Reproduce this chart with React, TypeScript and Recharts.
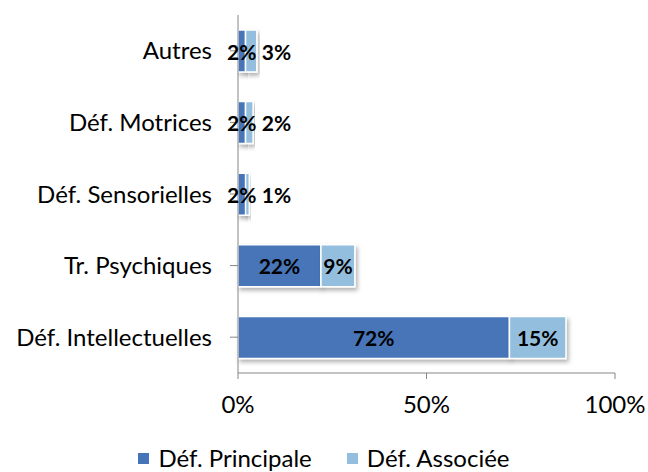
import { BarChart, Bar, XAxis, YAxis, Legend, LabelList } from 'recharts'

const categories = ['Autres', 'Déf. Motrices', 'Déf. Sensorielles', 'Tr. Psychiques', 'Déf. Intellectuelles']
const principale = [2, 2, 2, 22, 72]
const associee = [3, 2, 1, 9, 15]
const xTicks = [0, 50, 100]

const data = categories.map((name, i) => ({
  name,
  principale: principale[i],
  associee: associee[i],
}))

const FONT = 'Lato, "Open Sans", sans-serif'
const DARK = '#4674b8'
const LIGHT = '#94bedd'
const PLOT_LEFT = 238

function InsideLabel(props: any) {
  const { x, y, width, height, value } = props
  return (
    <text
      x={x + width / 2}
      y={y + height / 2}
      textAnchor="middle"
      dominantBaseline="central"
      fontFamily={FONT}
      fontWeight={700}
      fontSize={21}
      fill="#000"
    >
      {value}%
    </text>
  )
}

// small segments: push the label right, clear of the first segment's label
function OuterLabel(props: any) {
  const { x, y, width, height, value } = props
  const small = width < 20
  const prevEnd = (PLOT_LEFT + x) / 2 + 15
  return (
    <text
      x={small ? Math.max(x + width + 3, prevEnd + 5) : x + width / 2}
      y={y + height / 2}
      textAnchor={small ? 'start' : 'middle'}
      dominantBaseline="central"
      fontFamily={FONT}
      fontWeight={700}
      fontSize={21}
      fill="#000"
    >
      {value}%
    </text>
  )
}

const legendItems = [
  { label: 'Déf. Principale', color: DARK },
  { label: 'Déf. Associée', color: LIGHT },
]

function LegendContent() {
  return (
    <div style={{ display: 'flex', justifyContent: 'center', alignItems: 'center', gap: 35, fontFamily: FONT, fontSize: 24, color: '#000', lineHeight: '28px' }}>
      {legendItems.map(it => (
        <div key={it.label} style={{ display: 'flex', alignItems: 'center' }}>
          <span style={{ display: 'inline-block', width: 11, height: 11, background: it.color, marginRight: 9 }} />
          <span>{it.label}</span>
        </div>
      ))}
    </div>
  )
}

export default function App() {
  return (
    <div style={{ position: 'absolute', left: 0, top: 0, width: 648, height: 472, background: '#fff' }}>
      <BarChart
        width={648}
        height={472}
        data={data}
        layout="vertical"
        margin={{ top: 15, right: 33, left: 0, bottom: 0 }}
        barCategoryGap="20%"
      >
        <defs>
          <filter id="shadow" x="-10%" y="-10%" width="130%" height="140%">
            <feDropShadow dx="2" dy="3" stdDeviation="2" floodColor="#000" floodOpacity="0.3" />
          </filter>
        </defs>
        <XAxis
          type="number"
          domain={[0, 100]}
          ticks={xTicks}
          tickFormatter={v => `${v}%`}
          stroke="#868686"
          tick={{ fill: '#000', fontSize: 24, fontFamily: FONT }}
          tickSize={6}
          tickMargin={17}
          height={71}
        />
        <YAxis
          type="category"
          dataKey="name"
          width={PLOT_LEFT}
          stroke="#868686"
          tick={{ fill: '#000', fontSize: 24, fontFamily: FONT }}
          tickSize={8}
          tickMargin={18}
        />
        <Legend verticalAlign="bottom" content={LegendContent} wrapperStyle={{ left: 0, width: 648, bottom: 0 }} />
        <Bar
          dataKey="principale"
          name="Déf. Principale"
          stackId="a"
          fill={DARK}
          stroke="#fff"
          strokeWidth={1.5}
          filter="url(#shadow)"
          barSize={42}
          isAnimationActive={false}
        >
          <LabelList dataKey="principale" content={InsideLabel} />
        </Bar>
        <Bar
          dataKey="associee"
          name="Déf. Associée"
          stackId="a"
          fill={LIGHT}
          stroke="#fff"
          strokeWidth={1.5}
          filter="url(#shadow)"
          barSize={42}
          isAnimationActive={false}
        >
          <LabelList dataKey="associee" content={OuterLabel} />
        </Bar>
      </BarChart>
    </div>
  )
}
